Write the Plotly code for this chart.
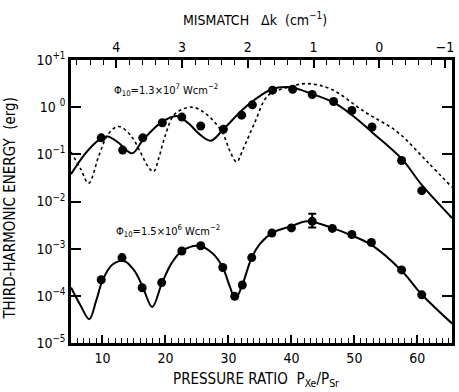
import plotly.graph_objects as go

# ---------------- data ----------------
# measured points, upper series (Phi10 = 1.3e7 W/cm2)
p_hi = [9.8, 13.2, 16.4, 19.5, 22.6, 25.6, 29.2, 32.1, 33.8, 37.0, 40.2, 43.3, 46.7, 49.6, 52.8, 57.5, 60.7]
e_hi = [0.224, 0.123, 0.224, 0.468, 0.617, 0.398, 0.339, 0.676, 1.12, 2.29, 2.40, 1.86, 1.32, 0.851, 0.380, 0.0741, 0.0170]

# measured points, lower series (Phi10 = 1.5e6 W/cm2)
p_lo = [9.8, 13.1, 16.3, 19.4, 22.6, 25.6, 29.1, 31.0, 32.2, 33.7, 36.9, 40.0, 46.5, 49.6, 52.7, 57.5, 60.7]
e_lo = [2.19e-4, 6.46e-4, 1.48e-4, 1.91e-4, 8.91e-4, 1.15e-3, 3.98e-4, 9.77e-5, 1.70e-4, 6.46e-4,
        2.14e-3, 2.75e-3, 2.69e-3, 2.00e-3, 1.35e-3, 3.55e-4, 1.05e-4]

# point with error bar
p_err = [43.3]
e_err = [3.80e-3]
e_err_plus = [1.7e-3]
e_err_minus = [1.0e-3]

# theory curve, upper (solid)
c_hi_p = [5.0, 7.3, 9.4, 10.8, 12.5, 14.7, 16.4, 19.4, 21.8, 23.7, 25.3, 27.2, 29.2, 32.1, 34.2, 36.9, 39.8,
          43.3, 46.7, 49.6, 52.8, 57.5, 60.7, 65.5]
c_hi_e = [0.038, 0.105, 0.20, 0.24, 0.178, 0.105, 0.20, 0.48, 0.65, 0.45, 0.275, 0.195, 0.34, 0.85, 1.45,
          2.40, 2.63, 1.90, 1.26, 0.68, 0.295, 0.081, 0.0224, 0.00447]

# theory curve, upper (dotted)
d_hi_p = [5.0, 6.5, 7.8, 9.5, 11.0, 12.6, 14.5, 16.0, 17.2, 18.1, 19.0, 19.9, 21.5, 24.2, 26.5, 29.0, 30.3,
          31.3, 32.3, 34.2, 36.3, 39.5, 42.4, 46.3, 51.6, 56.8, 61.6, 65.5]
d_hi_e = [0.112, 0.050, 0.0245, 0.10, 0.28, 0.39, 0.25, 0.112, 0.056, 0.043, 0.089, 0.234, 0.72, 1.0,
          0.71, 0.295, 0.112, 0.069, 0.126, 0.48, 1.78, 2.63, 3.16, 2.40, 0.80, 0.30, 0.069, 0.020]

# theory curve, lower (solid)
c_lo_p = [5.0, 6.5, 7.9, 9.0, 10.0, 11.5, 13.4, 15.0, 16.3, 17.9, 19.4, 21.0, 22.6, 25.3, 27.5, 29.1, 30.2,
          31.1, 32.2, 33.7, 35.0, 36.9, 40.0, 42.5, 46.3, 49.6, 52.7, 57.5, 60.7, 65.5]
c_lo_e = [1.5e-4, 6.3e-5, 3.2e-5, 7.9e-5, 2.1e-4, 4.5e-4, 5.5e-4, 3.5e-4, 1.66e-4, 5.8e-5, 1.8e-4,
          5.0e-4, 8.9e-4, 1.15e-3, 7.9e-4, 4.0e-4, 1.6e-4, 8.7e-5, 1.7e-4, 6.5e-4, 1.26e-3, 2.14e-3,
          3.0e-3, 3.8e-3, 2.8e-3, 1.9e-3, 1.2e-3, 3.4e-4, 1.07e-4, 2.6e-5]

# axis ticks
x_ticks = [10, 20, 30, 40, 50, 60]
dk_ticks = [4, 3, 2, 1, 0, -1]
dk_labels = ["4", "3", "2", "1", "0", "\u22121"]
y_ticks = [1e-5, 1e-4, 1e-3, 1e-2, 1e-1, 1e0, 1e1]
y_labels = ["10<sup>\u22125</sup>", "10<sup>\u22124</sup>", "10<sup>\u22123</sup>", "10<sup>\u22122</sup>",
            "10<sup>\u22121</sup>", "10 <sup>0</sup>", "10<sup>+1</sup>"]

# ---------------- figure ----------------
FONT = "DejaVu Sans Condensed, DejaVu Sans, sans-serif"
fig = go.Figure()

fig.add_trace(go.Scatter(x=d_hi_p, y=d_hi_e, mode="lines", line=dict(color="black", width=1.6, dash="dot", shape="spline"),
                         hoverinfo="skip", showlegend=False))
fig.add_trace(go.Scatter(x=c_hi_p, y=c_hi_e, mode="lines", line=dict(color="black", width=2, shape="spline"),
                         hoverinfo="skip", showlegend=False))
fig.add_trace(go.Scatter(x=c_lo_p, y=c_lo_e, mode="lines", line=dict(color="black", width=2, shape="spline"),
                         hoverinfo="skip", showlegend=False))
fig.add_trace(go.Scatter(x=p_hi, y=e_hi, mode="markers", marker=dict(color="black", size=9),
                         showlegend=False))
fig.add_trace(go.Scatter(x=p_lo, y=e_lo, mode="markers", marker=dict(color="black", size=9),
                         showlegend=False))
fig.add_trace(go.Scatter(x=p_err, y=e_err, mode="markers", marker=dict(color="black", size=9),
                         error_y=dict(type="data", array=e_err_plus, arrayminus=e_err_minus, symmetric=False,
                                      color="black", thickness=2, width=4),
                         showlegend=False))
# invisible trace for the top (mismatch) axis
fig.add_trace(go.Scatter(x=dk_ticks, y=[1] * len(dk_ticks), xaxis="x2", mode="markers",
                         marker=dict(opacity=0), hoverinfo="skip", showlegend=False))

fig.update_layout(
    width=459, height=392,
    margin=dict(l=71, r=4, t=60, b=49),
    paper_bgcolor="white", plot_bgcolor="white",
    font=dict(family=FONT, size=14, color="black"),
    xaxis=dict(range=[5, 65.5], tickvals=x_ticks, ticks="inside", ticklen=8, tickwidth=1.5,
               tickcolor="black", showline=True, linewidth=2.5, linecolor="black", mirror=False,
               showgrid=False, zeroline=False,
               minor=dict(dtick=1, tick0=0, ticks="inside", ticklen=5, tickwidth=1.2, tickcolor="black"),
               tickfont=dict(size=14)),
    xaxis2=dict(overlaying="x", side="top", anchor="y", range=[4.69, -1.106],
                tickvals=dk_ticks, ticktext=dk_labels, ticks="inside", ticklen=8, tickwidth=1.5,
                tickcolor="black", showline=True, linewidth=2.5, linecolor="black",
                showgrid=False, zeroline=False,
                minor=dict(dtick=0.2, tick0=0, ticks="inside", ticklen=5, tickwidth=1.2, tickcolor="black"),
                tickfont=dict(size=14)),
    yaxis=dict(type="log", range=[-5, 1], tickvals=y_ticks, ticktext=y_labels, ticks="inside",
               ticklen=10, tickwidth=1.5, tickcolor="black", showline=True, linewidth=2.5,
               linecolor="black", mirror="ticks", showgrid=False, zeroline=False,
               tickfont=dict(size=14)),
)

annots = [
    dict(text="MISMATCH   \u0394k  (cm<sup>\u22121</sup>)", x=0.484, y=1.145, xref="paper", yref="paper",
         xanchor="center", yanchor="middle", showarrow=False, font=dict(size=14)),
    dict(text="PRESSURE RATIO  P<sub>Xe</sub>/P<sub>Sr</sub>", x=0.485, y=-0.128, xref="paper", yref="paper",
         xanchor="center", yanchor="middle", showarrow=False, font=dict(size=15)),
    dict(text="THIRD-HARMONIC ENERGY  (erg)", x=-0.16, y=0.475, xref="paper", yref="paper",
         xanchor="center", yanchor="middle", showarrow=False, textangle=-90, font=dict(size=15)),
    dict(text="\u03a6<sub>10</sub>=1.3\u00d710<sup>7</sup> Wcm<sup>\u22122</sup>", x=0.25, y=0.895,
         xref="paper", yref="paper", xanchor="center", yanchor="middle", showarrow=False, font=dict(size=11)),
    dict(text="\u03a6<sub>10</sub>=1.5\u00d710<sup>6</sup> Wcm<sup>\u22122</sup>", x=0.255, y=0.395,
         xref="paper", yref="paper", xanchor="center", yanchor="middle", showarrow=False, font=dict(size=11)),
]
fig.update_layout(annotations=annots)

fig.write_html("out.html")
